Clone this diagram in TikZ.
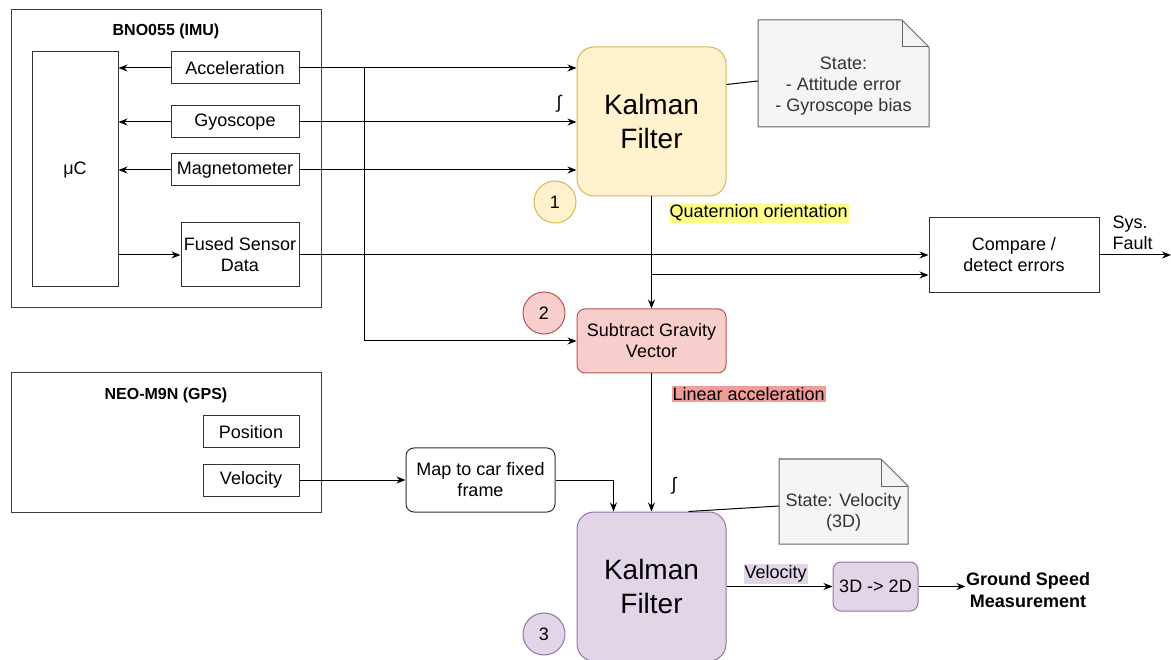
\documentclass[tikz,border=0pt]{standalone}
\usepackage{fontspec}
\setmainfont{Liberation Sans}
\usetikzlibrary{arrows.meta}

\definecolor{kfyfill}{HTML}{FFF2CC}
\definecolor{kfydraw}{HTML}{D6B656}
\definecolor{subfill}{HTML}{F8CECC}
\definecolor{subdraw}{HTML}{B85450}
\definecolor{kfpfill}{HTML}{E1D5E7}
\definecolor{kfpdraw}{HTML}{9673A6}
\definecolor{notefill}{HTML}{F5F5F5}
\definecolor{notedraw}{HTML}{666666}
\definecolor{notetext}{HTML}{333333}
\definecolor{quatbg}{HTML}{FFFF88}
\definecolor{linbg}{HTML}{F19C99}

\tikzset{
  txt/.style={font=\fontsize{18}{21}\selectfont, align=center, inner sep=0pt},
  blk/.style={txt, draw=black!80, line width=1pt},
  frame/.style={draw=black!75, line width=1pt, minimum width=310pt},
  title/.style={font=\fontsize{16}{19}\selectfont\bfseries},
  kalman/.style={blk, rounded corners=17pt, minimum width=149pt, minimum height=149pt,
    font=\fontsize{28}{34}\selectfont},
  numcircle/.style={txt, circle, line width=1pt, minimum size=42pt},
  tag/.style={txt, anchor=west, inner xsep=1pt, inner ysep=1.5pt},
  notebox/.style={fill=notefill, draw=notedraw, line width=1pt}
}

\begin{document}
\begin{tikzpicture}[x=1pt, y=-1pt, >={Stealth[length=9pt,width=7pt]}, line width=1pt]
  \useasboundingbox (0,0) rectangle (1171,660);

  % IMU
  \node[frame, minimum height=298pt] (imu) at (166,159) {};
  \node[title] (imutitle) at (166,31) {BNO055 (IMU)};
  \node[blk, minimum width=86pt, minimum height=235pt] (mc) at (75,169.5) {μC};
  \node[blk, minimum width=128pt, minimum height=32pt] (acc) at (235,68) {Acceleration};
  \node[blk, minimum width=128pt, minimum height=32pt] (gyro) at (235,122) {Gyoscope};
  \node[blk, minimum width=128pt, minimum height=32pt] (mag) at (235,170) {Magnetometer};
  \node[blk, minimum width=118pt, minimum height=64pt] (fused) at (240,255) {Fused Sensor\\Data};

  % GPS
  \node[frame, minimum height=139pt] (gps) at (166,442.5) {};
  \node[title] (gpstitle) at (166,395) {NEO-M9N (GPS)};
  \node[blk, minimum width=96pt, minimum height=32pt] (pos) at (251,432) {Position};
  \node[blk, minimum width=96pt, minimum height=32pt] (vel) at (251,480) {Velocity};
  \node[blk, rounded corners=8pt, minimum width=149pt, minimum height=64pt] (map) at (480.5,480) {Map to car fixed\\frame};

  % first filter
  \node[kalman, fill=kfyfill, draw=kfydraw] (kf1) at (651.5,121.5) {Kalman\\Filter};
  \node[numcircle, fill=kfyfill, draw=kfydraw] (c1) at (555,202) {1};
  \draw[notebox] (758,127) -- (758,20) -- (902,20) -- (929,47) -- (929,127) -- cycle;
  \draw[draw=notedraw] (902,20) -- (902,47) -- (929,47);
  \node[txt, text=notetext] (note1) at (843.5,86) {State:\\- Attitude error\\- Gyroscope bias};
  \draw ([yshift=37]kf1.east) -- (758,81);
  \node[tag, fill=quatbg] (quat) at (668,213) {Quaternion orientation};

  \node[blk, rounded corners=8pt, fill=subfill, draw=subdraw, minimum width=149pt, minimum height=64pt] (sub) at (651.5,341) {Subtract Gravity\\Vector};
  \node[numcircle, fill=subfill, draw=subdraw] (c2) at (544,313) {2};
  \node[tag, fill=linbg] (lin) at (671,394) {Linear acceleration};

  \node[blk, minimum width=170pt, minimum height=75pt] (cmp) at (1014,255) {Compare /\\detect errors};
  \node[txt, align=left, anchor=west] (fault) at (1112,233) {Sys.\\Fault};
  \coordinate (faultend) at (1171,255);

  % second filter
  \node[kalman, fill=kfpfill, draw=kfpdraw] (kf2) at (651.5,586.5) {Kalman\\Filter};
  \node[numcircle, fill=kfpfill, draw=kfpdraw] (c3) at (544,634) {3};
  \draw[notebox] (779,544) -- (779,459) -- (881,459) -- (908,486) -- (908,544) -- cycle;
  \draw[draw=notedraw] (881,459) -- (881,486) -- (908,486);
  \node[txt, text=notetext] (note2) at (843.5,512) {State: Velocity\\(3D)};
  \draw ([xshift=37]kf2.north) -- (779,506);
  \node[tag, fill=kfpfill] (vtag) at (743,574) {Velocity};
  \node[blk, rounded corners=8pt, fill=kfpfill, draw=kfpdraw, minimum width=85pt, minimum height=49pt] (conv) at (875.5,586.5) {3D -> 2D};
  \node[txt, font=\fontsize{18}{22}\selectfont\bfseries] (ground) at (1028,590) {Ground Speed\\Measurement};

  \node[txt] (int1) at (559,104) {∫};
  \node[txt] (int2) at (674,486) {∫};

  % connectors
  \draw[->] (acc.west) -- (acc.west -| mc.east);
  \draw[->] (gyro.west) -- (gyro.west -| mc.east);
  \draw[->] (mag.west) -- (mag.west -| mc.east);
  \draw[->] (fused.west -| mc.east) -- (fused.west);
  \draw[->] (acc.east) -- (acc.east -| kf1.west);
  \draw[->] (gyro.east) -- (gyro.east -| kf1.west);
  \draw[->] (mag.east) -- (mag.east -| kf1.west);
  \coordinate (split) at (364,68);
  \draw[->] (split) |- (sub.west);
  \draw[->] (kf1.south) -- (sub.north);
  \draw[->] (fused.east) -- (cmp.west);
  \coordinate (tap) at (651.5,275);
  \draw[->] (tap) -- (tap -| cmp.west);
  \draw[->] (cmp.east) -- (faultend);
  \draw[->] (sub.south) -- (kf2.north);
  \draw[->] (vel.east) -- (map.west);
  \draw[->] (map.east) -| ([xshift=-38]kf2.north);
  \draw[->] (kf2.east) -- (conv.west);
  \draw[->] (conv.east) -- (ground.west |- conv.east);
\end{tikzpicture}
\end{document}
